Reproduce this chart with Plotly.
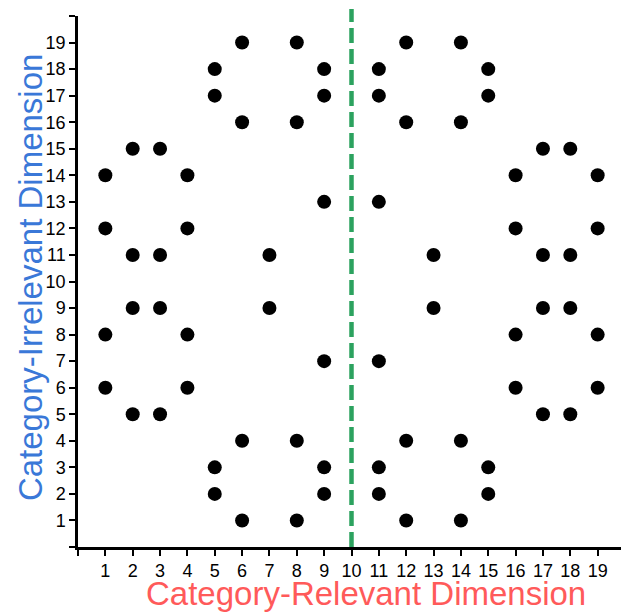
import plotly.graph_objects as go

# Stimulus coordinates (category-relevant x, category-irrelevant y)
x_vals = [6, 8, 5, 9, 5, 9, 6, 8,
          12, 14, 11, 15, 11, 15, 12, 14,
          2, 3, 1, 4, 1, 4, 2, 3,
          2, 3, 1, 4, 1, 4, 2, 3,
          17, 18, 16, 19, 16, 19, 17, 18,
          17, 18, 16, 19, 16, 19, 17, 18,
          6, 8, 5, 9, 5, 9, 6, 8,
          12, 14, 11, 15, 11, 15, 12, 14,
          9, 11, 7, 13, 7, 13, 9, 11]
y_vals = [19, 19, 18, 18, 17, 17, 16, 16,
          19, 19, 18, 18, 17, 17, 16, 16,
          15, 15, 14, 14, 12, 12, 11, 11,
          9, 9, 8, 8, 6, 6, 5, 5,
          15, 15, 14, 14, 12, 12, 11, 11,
          9, 9, 8, 8, 6, 6, 5, 5,
          4, 4, 3, 3, 2, 2, 1, 1,
          4, 4, 3, 3, 2, 2, 1, 1,
          13, 13, 11, 11, 9, 9, 7, 7]
boundary_x = 10
tick_vals = list(range(0, 21))
tick_text = [""] + [str(i) for i in range(1, 20)] + [""]
x_title = "Category-Relevant Dimension"
y_title = "Category-Irrelevant Dimension"

fig = go.Figure()
fig.add_trace(go.Scatter(x=x_vals, y=y_vals, mode="markers",
                         marker=dict(color="black", size=14),
                         cliponaxis=False, showlegend=False))
fig.add_shape(type="line", xref="x", yref="paper",
              x0=boundary_x, x1=boundary_x, y0=0, y1=1.013,
              line=dict(color="#2ca25f", width=4.5, dash="15px,6px"))

axis_common = dict(showline=True, linecolor="black", linewidth=2.5,
                   ticks="outside", ticklen=6, tickwidth=2, tickcolor="black",
                   showgrid=False, zeroline=False,
                   tickvals=tick_vals, ticktext=tick_text,
                   tickfont=dict(family="Liberation Sans, Arial", size=18, color="black"))

fig.add_annotation(text=x_title, xref="paper", yref="paper",
                   x=0.5265, y=-0.0875, xanchor="center", yanchor="middle",
                   showarrow=False,
                   font=dict(family="Liberation Sans, Arial", size=33, color="#ff5a5a"))
fig.add_annotation(text=y_title, xref="paper", yref="paper",
                   x=-0.0878, y=0.5082, xanchor="center", yanchor="middle",
                   textangle=-90, showarrow=False,
                   font=dict(family="Liberation Sans, Arial", size=33, color="#3a78d8"))

fig.update_layout(
    width=621, height=604,
    margin=dict(l=70, r=4, t=8, b=65),
    paper_bgcolor="white", plot_bgcolor="white",
    xaxis=dict(range=[0, 20], **axis_common),
    yaxis=dict(range=[0, 20], **axis_common),
)
fig.write_html("out.html")
